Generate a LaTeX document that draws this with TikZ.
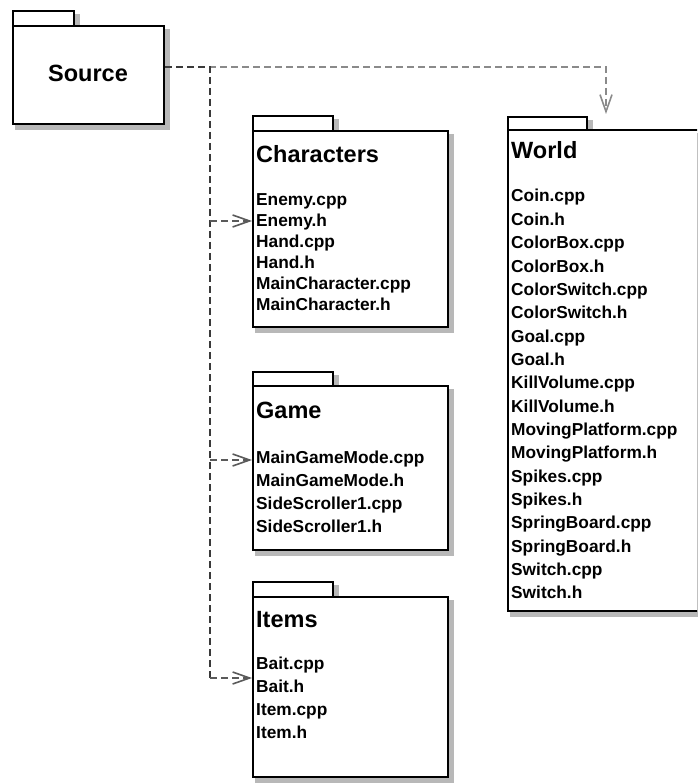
\documentclass[tikz,border=0pt]{standalone}
\usepackage{fontspec}
\setmainfont{Liberation Sans}
\usetikzlibrary{arrows.meta,backgrounds}
\definecolor{shade}{HTML}{B8B8B8}
\definecolor{darkline}{HTML}{3A3A3A}
\definecolor{midline}{HTML}{5A5A5A}
\definecolor{lightline}{HTML}{8A8A8A}
\tikzset{
  pkg/.style={draw=black, line width=2pt, fill=white, inner sep=0pt, anchor=north west},
  pkgshadow/.style={fill=shade, draw=none},
  pkgtitle/.style={font=\fontsize{23.5}{28}\selectfont\bfseries, anchor=base west, inner sep=0pt},
  pkgitem/.style={font=\fontsize{17.3}{20}\selectfont\bfseries, anchor=base west, inner sep=0pt},
  dep/.style={line width=2pt, dash pattern=on 7pt off 4pt},
  tipped/.style={-{Straight Barb[length=17pt,width=12pt,line width=1.6pt]}}
}
\begin{document}
\begin{tikzpicture}[x=1pt,y=-1pt]
\useasboundingbox (0,0) rectangle (697,783);
\clip (0,0) rectangle (697,783);

% Source
\node[pkg, minimum width=61pt, minimum height=15pt] (srcTab) at (12,10) {};
\node[pkg, minimum width=151pt, minimum height=98pt] (src) at (12,25) {};
\node[font=\fontsize{23.5}{28}\selectfont\bfseries, inner sep=0pt] (srcT) at (88,73) {Source};

% Characters
\node[pkg, minimum width=80pt, minimum height=15pt] (charsTab) at (252,115) {};
\node[pkg, minimum width=195pt, minimum height=196pt] (chars) at (252,130) {};
\node[pkgtitle] (charsT) at (256,163) {Characters};
\foreach \t [count=\i] in {Enemy.cpp,Enemy.h,Hand.cpp,Hand.h,MainCharacter.cpp,MainCharacter.h}
  \node[pkgitem] (chars\i) at (256,{205.5+21*(\i-1)}) {\t};

% Game
\node[pkg, minimum width=80pt, minimum height=14pt] (gameTab) at (252,371) {};
\node[pkg, minimum width=195pt, minimum height=164pt] (game) at (252,385) {};
\node[pkgtitle] (gameT) at (256,418) {Game};
\foreach \t [count=\i] in {MainGameMode.cpp,MainGameMode.h,SideScroller1.cpp,SideScroller1.h}
  \node[pkgitem] (game\i) at (256,{463+23*(\i-1)}) {\t};

% Items
\node[pkg, minimum width=80pt, minimum height=15pt] (itemsTab) at (252,581) {};
\node[pkg, minimum width=195pt, minimum height=180pt] (items) at (252,596) {};
\node[pkgtitle] (itemsT) at (256,627) {Items};
\foreach \t [count=\i] in {Bait.cpp,Bait.h,Item.cpp,Item.h}
  \node[pkgitem] (items\i) at (256,{669+23.3*(\i-1)}) {\t};

% World (runs past the right edge of the picture)
\node[pkg, minimum width=79pt, minimum height=13pt] (worldTab) at (507,116) {};
\node[pkg, minimum width=320pt, minimum height=481pt] (world) at (507,129) {};
\node[pkgtitle] (worldT) at (511,159) {World};
\foreach \t [count=\i] in {Coin.cpp,Coin.h,ColorBox.cpp,ColorBox.h,ColorSwitch.cpp,ColorSwitch.h,Goal.cpp,Goal.h,KillVolume.cpp,KillVolume.h,MovingPlatform.cpp,MovingPlatform.h,Spikes.cpp,Spikes.h,SpringBoard.cpp,SpringBoard.h,Switch.cpp,Switch.h}
  \node[pkgitem] (world\i) at (511,{202+23.35*(\i-1)}) {\t};

% drop shadows
\begin{scope}[on background layer]
\foreach \n in {srcTab,src,charsTab,chars,gameTab,game,itemsTab,items,worldTab,world}
  \fill[pkgshadow] ([shift={(3,4)}]\n.north west) rectangle ([shift={(5,5)}]\n.south east);
\end{scope}

% connector anchor points
\coordinate (srcOut) at ([yshift=-42pt]src.north east);
\coordinate (bus) at ([xshift=45pt]srcOut);
\coordinate (worldIn) at ([xshift=99pt,yshift=15pt]world.north west);
\coordinate (charsIn) at ([yshift=-91pt]chars.north west);
\coordinate (gameIn) at ([yshift=-75pt]game.north west);
\coordinate (itemsIn) at ([yshift=-82pt]items.north west);

% Source -> World
\draw[dep, lightline, tipped] (srcOut) -- (bus) -| (worldIn);
% Source -> Characters / Game / Items
\draw[dep, darkline] (srcOut) -- (bus) -- (bus |- itemsIn);
\draw[dep, midline, tipped] (bus |- charsIn) -- (charsIn);
\draw[dep, midline, tipped] (bus |- gameIn) -- (gameIn);
\draw[dep, midline, tipped] (bus |- itemsIn) -- (itemsIn);
\end{tikzpicture}
\end{document}
